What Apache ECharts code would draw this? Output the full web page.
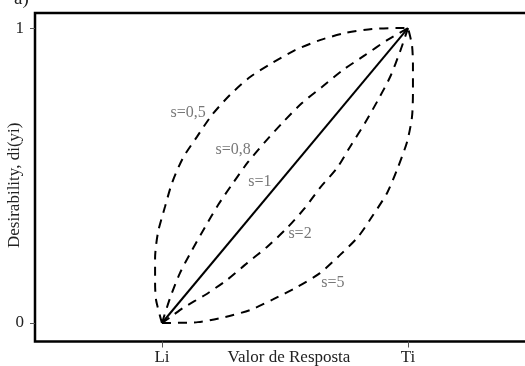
<!DOCTYPE html>
<html>
<head>
<meta charset="utf-8">
<script src="https://cdn.jsdelivr.net/npm/echarts@6/dist/echarts.min.js"></script>
<style>
  html, body { margin: 0; padding: 0; background: #fff; }
  #chart { width: 525px; height: 366px; }
</style>
</head>
<body>
<div id="chart"></div>
<script>
// x: 0 = Li, 1 = Ti ; y: desirability 0..1
const xS05 = [0, -0.024, -0.028, -0.028, -0.016, 0.012, 0.041, 0.085, 0.142, 0.203, 0.276, 0.358, 0.447, 0.541, 0.642, 0.744, 0.854, 0.955, 1];
const yS05 = [0, 0.078, 0.136, 0.22, 0.308, 0.393, 0.475, 0.559, 0.631, 0.705, 0.773, 0.834, 0.881, 0.925, 0.959, 0.983, 0.997, 1, 1];

const xS08 = [0, 0.033, 0.073, 0.122, 0.175, 0.228, 0.289, 0.35, 0.419, 0.492, 0.569, 0.65, 0.736, 0.825, 0.915, 1];
const yS08 = [0, 0.085, 0.169, 0.247, 0.325, 0.4, 0.475, 0.546, 0.614, 0.681, 0.746, 0.8, 0.858, 0.908, 0.959, 1];

const xS1 = [0, 1];
const yS1 = [0, 1];

const xS2 = [0, 0.041, 0.085, 0.175, 0.264, 0.346, 0.427, 0.508, 0.581, 0.642, 0.711, 0.764, 0.825, 0.878, 0.927, 0.967, 1];
const yS2 = [0, 0.024, 0.051, 0.095, 0.146, 0.203, 0.258, 0.322, 0.39, 0.458, 0.525, 0.597, 0.678, 0.756, 0.834, 0.919, 1];

const xS5 = [0, 0.146, 0.256, 0.358, 0.451, 0.549, 0.642, 0.724, 0.797, 0.858, 0.915, 0.955, 0.996, 1.016, 1.02, 1.02, 1.016, 1];
const yS5 = [0, 0.003, 0.02, 0.044, 0.08, 0.122, 0.169, 0.231, 0.292, 0.366, 0.441, 0.519, 0.614, 0.698, 0.783, 0.875, 0.942, 1];

// curve labels
const labelText = ["s=0,5", "s=0,8", "s=1", "s=2", "s=5"];
const labelX = [0.106, 0.289, 0.398, 0.561, 0.695];
const labelY = [0.712, 0.586, 0.478, 0.302, 0.136];

// tick labels
const xTickValues = [0, 1];
const xTickLabels = ["Li", "Ti"];
const yTickValues = [0, 1];
const yTickLabels = ["0", "1"];

const serif = "Liberation Serif";

function pairs(xs, ys) {
  return xs.map((x, i) => [x, ys[i]]);
}

function curve(name, xs, ys, dashed) {
  return {
    name: name,
    type: "line",
    data: pairs(xs, ys),
    smooth: dashed ? 0.25 : false,
    showSymbol: false,
    symbol: "none",
    silent: true,
    lineStyle: {
      color: "#000",
      width: 2,
      type: dashed ? [9, 7] : "solid"
    }
  };
}

const chart = echarts.init(document.getElementById("chart"));

const option = {
  animation: false,
  backgroundColor: "#fff",
  title: {
    text: "a)",
    left: 9,
    top: -15,
    textStyle: { fontFamily: serif, fontSize: 19, fontWeight: "normal", color: "#222" }
  },
  grid: {
    left: 35,
    top: 13,
    bottom: 24.5,
    right: -10,
    containLabel: false,
    outerBoundsMode: "none",
    show: true,
    borderColor: "#000",
    borderWidth: 2.5,
    backgroundColor: "#fff"
  },
  xAxis: {
    type: "value",
    min: -0.516,
    max: 1.516,
    name: "Valor de Resposta",
    nameLocation: "middle",
    nameGap: 8,
    nameMoveOverlap: false,
    nameTextStyle: { fontFamily: serif, fontSize: 17, color: "#222", verticalAlign: "top", padding: [0, 0, 0, 8] },
    splitLine: { show: false },
    axisLine: { show: false, onZero: false },
    axisTick: { show: true, inside: false, length: 6, customValues: xTickValues, lineStyle: { color: "#555" } },
    axisLabel: {
      customValues: xTickValues,
      margin: 8,
      fontFamily: serif,
      fontSize: 17,
      color: "#222",
      formatter: (v) => xTickLabels[xTickValues.indexOf(v)] || ""
    }
  },
  yAxis: {
    type: "value",
    min: -0.0627,
    max: 1.051,
    name: "Desirability, di(yi)",
    nameLocation: "middle",
    nameGap: 12,
    nameRotate: 90,
    nameMoveOverlap: false,
    nameTextStyle: { fontFamily: serif, fontSize: 17, color: "#222", padding: [0, 16, 0, 0] },
    splitLine: { show: false },
    axisLine: { show: false, onZero: false },
    axisTick: { show: true, inside: false, length: 5, customValues: yTickValues, lineStyle: { color: "#555" } },
    axisLabel: {
      customValues: yTickValues,
      margin: 11,
      fontFamily: serif,
      fontSize: 17,
      color: "#222",
      formatter: (v) => yTickLabels[yTickValues.indexOf(v)] || ""
    }
  },
  series: [
    curve("s=0,5", xS05, yS05, true),
    curve("s=0,8", xS08, yS08, true),
    curve("s=1", xS1, yS1, false),
    curve("s=2", xS2, yS2, true),
    curve("s=5", xS5, yS5, true),
    {
      name: "labels",
      type: "scatter",
      silent: true,
      symbolSize: 0,
      data: labelText.map((t, i) => ({ name: t, value: [labelX[i], labelY[i]] })),
      label: {
        show: true,
        position: "inside",
        formatter: "{b}",
        fontFamily: serif,
        fontSize: 16,
        color: "#555"
      }
    }
  ]
};

chart.setOption(option);
</script>
</body>
</html>
